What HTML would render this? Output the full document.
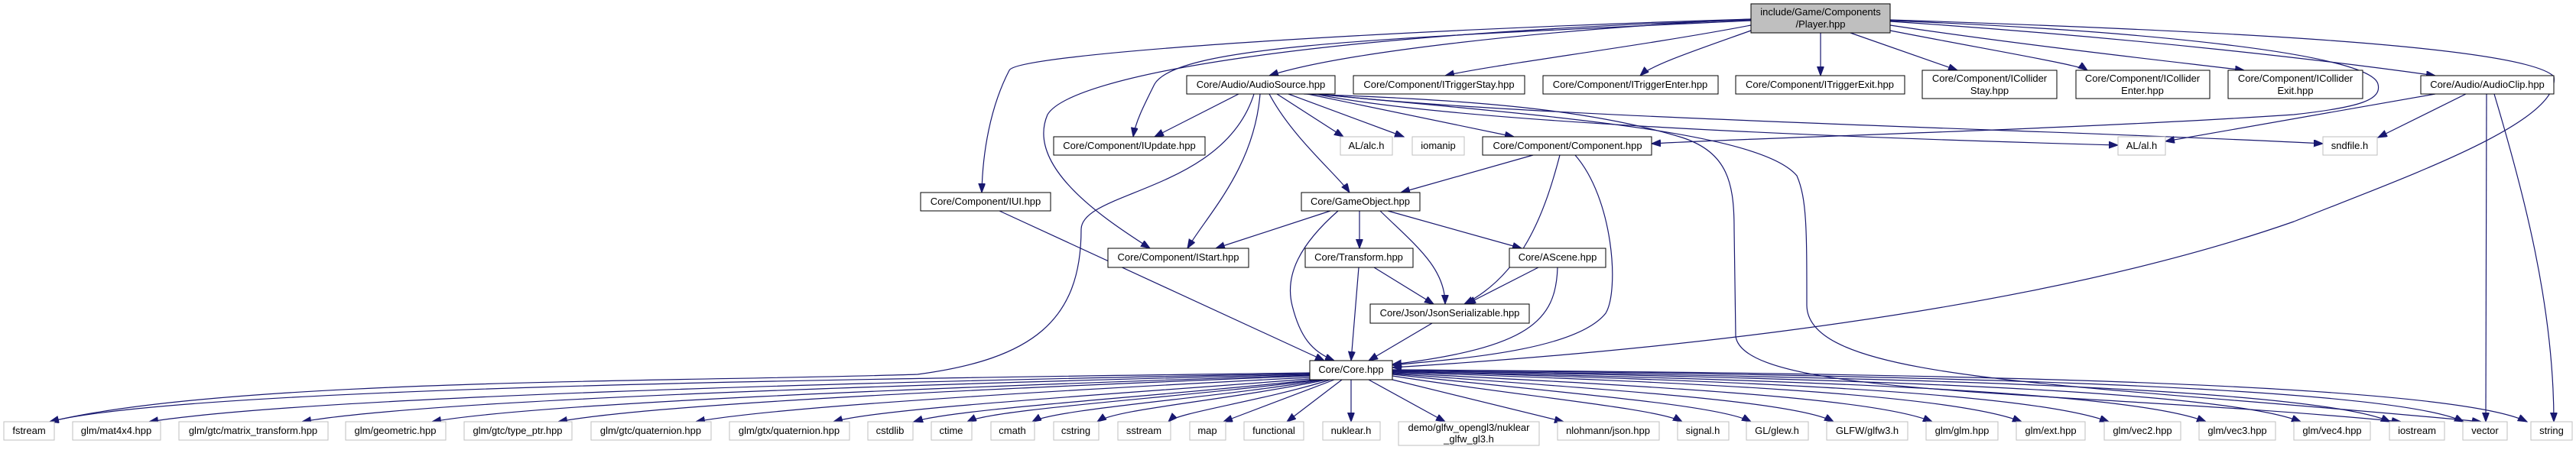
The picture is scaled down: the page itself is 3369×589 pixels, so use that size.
<!DOCTYPE html>
<html><head><meta charset="utf-8"><style>
html,body{margin:0;padding:0;background:#fff;}
svg{display:block}
text{font-family:"Liberation Sans",Arial,sans-serif;font-size:13px;fill:#000;text-anchor:middle}
.b{fill:#fff;stroke:#000;stroke-width:1}
.g{fill:#fff;stroke:#bfbfbf;stroke-width:1}
.e{fill:none;stroke:#191970;stroke-width:1.2;marker-end:url(#a)}
</style></head><body>
<svg width="3369" height="589" viewBox="0 0 3369 589" xmlns="http://www.w3.org/2000/svg">
<defs><marker id="a" markerUnits="userSpaceOnUse" markerWidth="13" markerHeight="10" refX="12" refY="4.5" orient="auto"><path d="M0,0 L12,4.5 L0,9 z" fill="#191970" stroke="#191970"/></marker></defs>
<g>
<path class="e" d="M2290,25 C2000,40 1750,70 1660,99"/>
<path class="e" d="M2290,33 C2150,60 1950,85 1890,99"/>
<path class="e" d="M2290,40 C2220,65 2160,85 2145,99"/>
<path class="e" d="M2381,43 L2381,99"/>
<path class="e" d="M2420,43 L2560,92"/>
<path class="e" d="M2472,40 C2600,65 2720,85 2730,92"/>
<path class="e" d="M2472,33 C2650,60 2880,85 2935,92"/>
<path class="e" d="M2472,28 C2800,50 3050,80 3185,99"/>
<path class="e" d="M2290,27 C1800,50 1540,60 1510,110 C1495,140 1485,160 1482,179"/>
<path class="e" d="M2290,25 C1800,40 1330,70 1320,92 C1295,140 1285,200 1284,252"/>
<path class="e" d="M2290,26 C1700,45 1400,100 1370,150 C1340,220 1450,290 1504,325"/>
<path class="e" d="M2472,27 C2800,40 3100,70 3110,110 C3115,130 3090,140 3000,150 C2700,170 2300,180 2160,188"/>
<path class="e" d="M2472,26 C2900,40 3300,60 3340,100 C3350,160 3150,230 3000,290 C2600,430 2000,470 1821,481"/>
<path class="e" d="M1620,123 L1510,179"/>
<path class="e" d="M1660,123 C1690,180 1750,230 1765,252"/>
<path class="e" d="M1670,123 L1757,179"/>
<path class="e" d="M1685,123 L1836,179"/>
<path class="e" d="M1710,123 L1980,179"/>
<path class="e" d="M1720,123 C1900,160 2400,180 2770,190"/>
<path class="e" d="M1725,123 C2000,155 2700,170 3038,188"/>
<path class="e" d="M1648,123 C1640,220 1580,280 1553,325"/>
<path class="e" d="M1640,123 C1600,250 1415,250 1414,300 C1414,420 1350,470 1200,490 C900,500 300,495 65,552"/>
<path class="e" d="M1705,123 C1900,130 2070,140 2200,180 C2260,200 2268,240 2268,300 L2270,440 C2280,520 2700,510 3140,552"/>
<path class="e" d="M1720,123 C2000,150 2300,170 2350,230 C2363,260 2363,300 2363,400 C2365,500 2700,500 3245,552"/>
<path class="e" d="M3185,123 L2832,185"/>
<path class="e" d="M3225,123 L3110,180"/>
<path class="e" d="M3252,123 L3251,552"/>
<path class="e" d="M3262,123 C3300,250 3340,400 3340,552"/>
<path class="e" d="M2005,203 L1832,252"/>
<path class="e" d="M2040,203 C2020,280 1990,360 1915,398"/>
<path class="e" d="M2060,203 C2110,260 2118,380 2100,410 C2060,460 1900,470 1821,478"/>
<path class="e" d="M1740,276 L1590,325"/>
<path class="e" d="M1778,276 L1778,325"/>
<path class="e" d="M1815,276 L1990,325"/>
<path class="e" d="M1805,276 C1850,320 1890,350 1890,398"/>
<path class="e" d="M1750,276 C1700,320 1680,360 1690,400 C1700,440 1715,460 1745,472"/>
<path class="e" d="M1797,350 L1875,398"/>
<path class="e" d="M1777,350 L1767,472"/>
<path class="e" d="M2012,350 L1918,398"/>
<path class="e" d="M2037,350 C2035,420 2000,455 1821,477"/>
<path class="e" d="M1873,423 L1790,472"/>
<path class="e" d="M1307,276 L1732,472"/>
<path class="e" d="M1713,488 C1200,495 250,505 65,552"/>
<path class="e" d="M1713,489 C1100,500 400,520 195,552"/>
<path class="e" d="M1713,490 C1100,505 550,525 395,552"/>
<path class="e" d="M1713,491 C1200,508 700,528 565,552"/>
<path class="e" d="M1713,492 C1250,510 850,530 730,552"/>
<path class="e" d="M1713,494 C1300,515 1000,535 910,552"/>
<path class="e" d="M1713,496 C1400,520 1150,535 1090,552"/>
<path class="e" d="M1720,497 C1500,520 1250,535 1195,552"/>
<path class="e" d="M1725,497 C1550,520 1300,535 1265,552"/>
<path class="e" d="M1730,497 C1600,520 1380,535 1350,552"/>
<path class="e" d="M1735,497 C1600,525 1460,535 1435,552"/>
<path class="e" d="M1740,497 C1650,525 1540,540 1528,552"/>
<path class="e" d="M1745,497 L1600,552"/>
<path class="e" d="M1755,497 L1683,552"/>
<path class="e" d="M1767,497 L1767,552"/>
<path class="e" d="M1790,497 L1890,552"/>
<path class="e" d="M1821,497 L2045,552"/>
<path class="e" d="M1821,492 C2000,520 2170,535 2200,552"/>
<path class="e" d="M1821,490 C2050,515 2250,530 2290,552"/>
<path class="e" d="M1821,489 C2100,510 2350,525 2398,552"/>
<path class="e" d="M1821,488 C2150,505 2450,520 2527,552"/>
<path class="e" d="M1821,487 C2200,500 2550,515 2644,552"/>
<path class="e" d="M1821,486 C2250,498 2650,512 2758,552"/>
<path class="e" d="M1821,486 C2300,496 2780,510 2885,552"/>
<path class="e" d="M1821,485 C2350,494 2900,508 3009,552"/>
<path class="e" d="M1821,485 C2400,492 3020,505 3126,552"/>
<path class="e" d="M1821,484 C2450,490 3120,503 3222,552"/>
<path class="e" d="M1821,484 C2500,488 3200,500 3305,552"/>
</g>
<g>
<rect x="2290" y="5" width="182" height="38" fill="#bfbfbf" stroke="#000"/>
<text x="2381" y="20">include/Game/Components</text><text x="2381" y="36">/Player.hpp</text>
<rect class="b" x="1552" y="99" width="194" height="24"/><text x="1649" y="115">Core/Audio/AudioSource.hpp</text>
<rect class="b" x="1770" y="99" width="224" height="24"/><text x="1882" y="115">Core/Component/ITriggerStay.hpp</text>
<rect class="b" x="2018" y="99" width="229" height="24"/><text x="2132" y="115">Core/Component/ITriggerEnter.hpp</text>
<rect class="b" x="2270" y="99" width="221" height="24"/><text x="2380" y="115">Core/Component/ITriggerExit.hpp</text>
<rect class="b" x="2514" y="92" width="176" height="37"/><text x="2602" y="107">Core/Component/ICollider</text><text x="2602" y="123">Stay.hpp</text>
<rect class="b" x="2715" y="92" width="175" height="37"/><text x="2802" y="107">Core/Component/ICollider</text><text x="2802" y="123">Enter.hpp</text>
<rect class="b" x="2914" y="92" width="176" height="37"/><text x="3002" y="107">Core/Component/ICollider</text><text x="3002" y="123">Exit.hpp</text>
<rect class="b" x="3166" y="99" width="174" height="24"/><text x="3253" y="115">Core/Audio/AudioClip.hpp</text>
<rect class="b" x="1378" y="179" width="198" height="24"/><text x="1477" y="195">Core/Component/IUpdate.hpp</text>
<rect class="g" x="1753" y="179" width="68" height="24"/><text x="1787" y="195">AL/alc.h</text>
<rect class="g" x="1847" y="179" width="68" height="24"/><text x="1881" y="195">iomanip</text>
<rect class="b" x="1939" y="179" width="221" height="24"/><text x="2050" y="195">Core/Component/Component.hpp</text>
<rect class="g" x="2770" y="179" width="62" height="24"/><text x="2801" y="195">AL/al.h</text>
<rect class="g" x="3038" y="179" width="71" height="24"/><text x="3073" y="195">sndfile.h</text>
<rect class="b" x="1204" y="252" width="170" height="24"/><text x="1289" y="268">Core/Component/IUI.hpp</text>
<rect class="b" x="1702" y="252" width="155" height="24"/><text x="1779" y="268">Core/GameObject.hpp</text>
<rect class="b" x="1449" y="325" width="184" height="25"/><text x="1541" y="341">Core/Component/IStart.hpp</text>
<rect class="b" x="1707" y="325" width="141" height="25"/><text x="1777" y="341">Core/Transform.hpp</text>
<rect class="b" x="1974" y="325" width="126" height="25"/><text x="2037" y="341">Core/AScene.hpp</text>
<rect class="b" x="1792" y="398" width="208" height="25"/><text x="1896" y="414">Core/Json/JsonSerializable.hpp</text>
<rect class="b" x="1713" y="472" width="108" height="25"/><text x="1767" y="488">Core/Core.hpp</text>
<rect class="g" x="5" y="552" width="66" height="24"/><text x="38" y="568">fstream</text>
<rect class="g" x="95" y="552" width="115" height="24"/><text x="152" y="568">glm/mat4x4.hpp</text>
<rect class="g" x="234" y="552" width="195" height="24"/><text x="331" y="568">glm/gtc/matrix_transform.hpp</text>
<rect class="g" x="452" y="552" width="131" height="24"/><text x="517" y="568">glm/geometric.hpp</text>
<rect class="g" x="607" y="552" width="141" height="24"/><text x="677" y="568">glm/gtc/type_ptr.hpp</text>
<rect class="g" x="773" y="552" width="157" height="24"/><text x="851" y="568">glm/gtc/quaternion.hpp</text>
<rect class="g" x="954" y="552" width="157" height="24"/><text x="1032" y="568">glm/gtx/quaternion.hpp</text>
<rect class="g" x="1135" y="552" width="59" height="24"/><text x="1164" y="568">cstdlib</text>
<rect class="g" x="1218" y="552" width="53" height="24"/><text x="1244" y="568">ctime</text>
<rect class="g" x="1296" y="552" width="57" height="24"/><text x="1324" y="568">cmath</text>
<rect class="g" x="1378" y="552" width="59" height="24"/><text x="1407" y="568">cstring</text>
<rect class="g" x="1462" y="552" width="69" height="24"/><text x="1496" y="568">sstream</text>
<rect class="g" x="1556" y="552" width="47" height="24"/><text x="1579" y="568">map</text>
<rect class="g" x="1627" y="552" width="78" height="24"/><text x="1666" y="568">functional</text>
<rect class="g" x="1730" y="552" width="75" height="24"/><text x="1767" y="568">nuklear.h</text>
<rect class="g" x="1829" y="552" width="184" height="31"/><text x="1921" y="564">demo/glfw_opengl3/nuklear</text><text x="1921" y="579">_glfw_gl3.h</text>
<rect class="g" x="2037" y="552" width="133" height="24"/><text x="2103" y="568">nlohmann/json.hpp</text>
<rect class="g" x="2194" y="552" width="67" height="24"/><text x="2227" y="568">signal.h</text>
<rect class="g" x="2284" y="552" width="81" height="24"/><text x="2324" y="568">GL/glew.h</text>
<rect class="g" x="2389" y="552" width="106" height="24"/><text x="2442" y="568">GLFW/glfw3.h</text>
<rect class="g" x="2519" y="552" width="94" height="24"/><text x="2566" y="568">glm/glm.hpp</text>
<rect class="g" x="2637" y="552" width="90" height="24"/><text x="2682" y="568">glm/ext.hpp</text>
<rect class="g" x="2752" y="552" width="100" height="24"/><text x="2802" y="568">glm/vec2.hpp</text>
<rect class="g" x="2876" y="552" width="100" height="24"/><text x="2926" y="568">glm/vec3.hpp</text>
<rect class="g" x="3000" y="552" width="100" height="24"/><text x="3050" y="568">glm/vec4.hpp</text>
<rect class="g" x="3125" y="552" width="72" height="24"/><text x="3161" y="568">iostream</text>
<rect class="g" x="3221" y="552" width="58" height="24"/><text x="3250" y="568">vector</text>
<rect class="g" x="3310" y="552" width="54" height="24"/><text x="3337" y="568">string</text>
</g>
</svg>
</body></html>
